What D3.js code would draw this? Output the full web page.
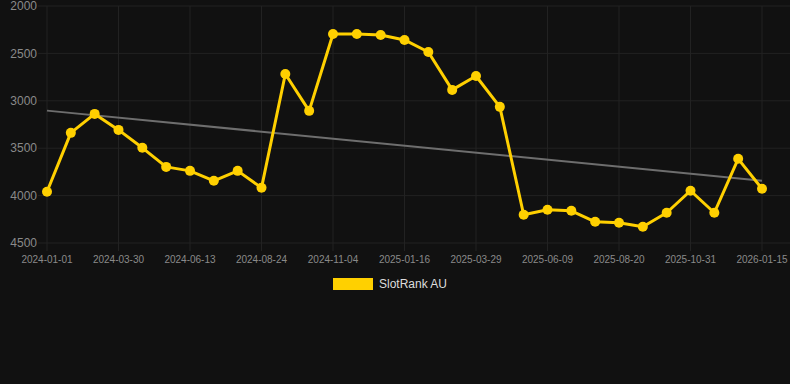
<!DOCTYPE html>
<html>
<head>
<meta charset="utf-8">
<script src="https://cdn.jsdelivr.net/npm/d3@7"></script>
<style>
  html, body { margin: 0; padding: 0; background: #111111; }
  svg { display: block; font-family: Arial, "Liberation Sans", Helvetica, sans-serif; }
</style>
</head>
<body>
<div id="chart"></div>
<script>
// category dates (only every 3rd one is shown on the axis)
const dates = [
  '2024-01-01', '2024-01-31', '2024-03-01', '2024-03-30', '2024-04-24', '2024-05-19',
  '2024-06-13', '2024-07-07', '2024-07-31', '2024-08-24', '2024-09-17', '2024-10-11',
  '2024-11-04', '2024-11-28', '2024-12-23', '2025-01-16', '2025-02-09', '2025-03-05',
  '2025-03-29', '2025-04-22', '2025-05-16', '2025-06-09', '2025-07-03', '2025-07-27',
  '2025-08-20', '2025-09-13', '2025-10-07', '2025-10-31', '2025-11-25', '2025-12-20',
  '2026-01-15'
];
const ranks = [
  3960, 3338, 3138, 3307, 3496, 3697, 3739, 3844, 3739, 3918,
  2717, 3106, 2295, 2295, 2305, 2358, 2485, 2885, 2738, 3064,
  4202, 4150, 4160, 4276, 4287, 4329, 4181, 3949, 4181, 3612,
  3928
];
const yTicks = [2000, 2500, 3000, 3500, 4000, 4500];
const seriesName = 'SlotRank AU';

const W = 790, H = 384;
const plotLeft = 47, plotRight = 762, plotTop = 6, plotBottom = 243;

const svg = d3.select('#chart').append('svg')
  .attr('width', W)
  .attr('height', H);

const x = d3.scalePoint().domain(dates).range([plotLeft, plotRight]);
const y = d3.scaleLinear().domain([2000, 4500]).range([plotTop, plotBottom]);

// grid
svg.append('g')
  .selectAll('line')
  .data(yTicks)
  .enter()
  .append('line')
  .attr('x1', plotLeft - 9)
  .attr('x2', W)
  .attr('y1', d => y(d))
  .attr('y2', d => y(d))
  .attr('stroke', '#222222')
  .attr('stroke-width', 1);

const shownDates = dates.filter((d, i) => i % 3 === 0);

svg.append('g')
  .selectAll('line')
  .data(shownDates)
  .enter()
  .append('line')
  .attr('x1', d => x(d))
  .attr('x2', d => x(d))
  .attr('y1', plotTop)
  .attr('y2', plotBottom + 8)
  .attr('stroke', '#222222')
  .attr('stroke-width', 1);

// y labels
svg.append('g')
  .selectAll('text')
  .data(yTicks)
  .enter()
  .append('text')
  .attr('x', 37)
  .attr('y', d => y(d))
  .attr('dy', '0.35em')
  .attr('text-anchor', 'end')
  .attr('font-size', 12)
  .attr('fill', '#8a8a8a')
  .text(d => d);

// x labels
svg.append('g')
  .selectAll('text')
  .data(shownDates)
  .enter()
  .append('text')
  .attr('x', d => x(d))
  .attr('y', 263)
  .attr('text-anchor', 'middle')
  .attr('font-size', 10)
  .attr('fill', '#8a8a8a')
  .text(d => d);

// linear trend of the series
const idx = ranks.map((v, i) => i);
const mx = d3.mean(idx), my = d3.mean(ranks);
const slope = d3.sum(idx, i => (i - mx) * (ranks[i] - my)) / d3.sum(idx, i => (i - mx) ** 2);
const icpt = my - slope * mx;
const n = ranks.length - 1;

svg.append('line')
  .attr('x1', x(dates[0]))
  .attr('y1', y(icpt))
  .attr('x2', x(dates[n]))
  .attr('y2', y(icpt + slope * n))
  .attr('stroke', '#6e6e6e')
  .attr('stroke-width', 2);

// series
const line = d3.line()
  .x((d, i) => x(dates[i]))
  .y(d => y(d));

svg.append('path')
  .datum(ranks)
  .attr('fill', 'none')
  .attr('stroke', '#FFD000')
  .attr('stroke-width', 3)
  .attr('stroke-linejoin', 'round')
  .attr('d', line);

svg.append('g')
  .selectAll('circle')
  .data(ranks)
  .enter()
  .append('circle')
  .attr('cx', (d, i) => x(dates[i]))
  .attr('cy', d => y(d))
  .attr('r', 5)
  .attr('fill', '#FFD000');

// legend
const lg = svg.append('g');
lg.append('rect')
  .attr('x', 333)
  .attr('y', 278)
  .attr('width', 40)
  .attr('height', 12)
  .attr('fill', '#FFD000');
lg.append('text')
  .attr('x', 379)
  .attr('y', 284)
  .attr('dy', '0.35em')
  .attr('font-size', 12)
  .attr('fill', '#dddddd')
  .text(seriesName);
</script>
</body>
</html>
